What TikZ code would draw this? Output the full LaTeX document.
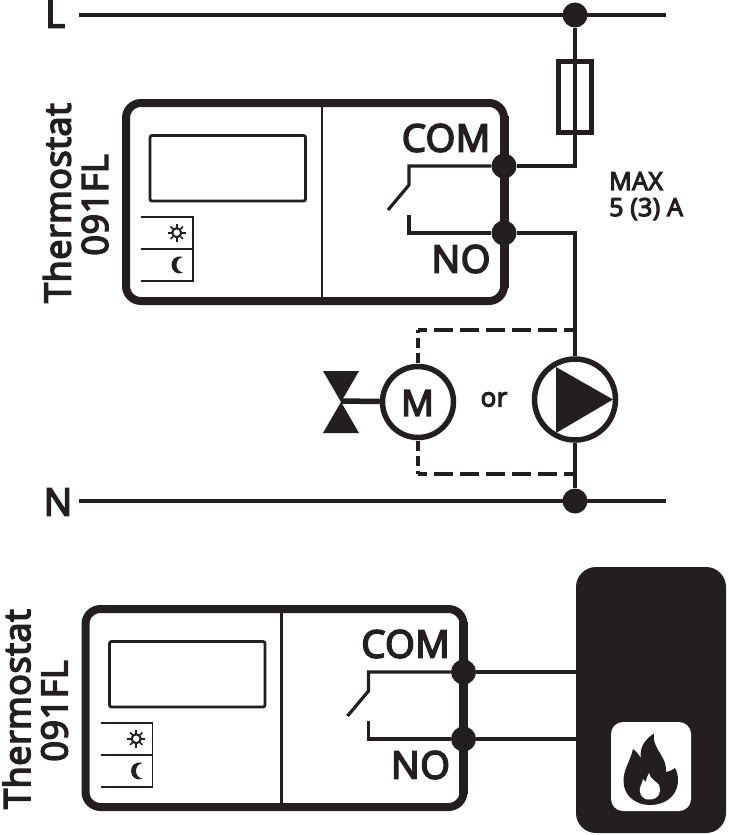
\documentclass[tikz,border=0pt]{standalone}
\usepackage{fontspec}
\setmainfont{Open Sans}[FakeBold=4.5,LetterSpace=1.5]
\definecolor{ink}{HTML}{231F20}
\tikzset{
  wire/.style={draw=ink,line width=3.2pt},
  dot/.style={circle,fill=ink,minimum size=25pt,inner sep=0pt},
  lab/.style={text=ink,inner sep=0pt,font=\fontsize{#1}{#1}\selectfont},
  dashwire/.style={draw=ink,line width=4pt},
  thermostat/.pic={
    \draw[draw=ink,line width=8pt,rounded corners=15pt] (126,103) rectangle (504,301);
    \draw[draw=ink,line width=9pt] (504,116) -- (504,288);
    \draw[draw=ink,line width=2.8pt] (322,103) -- (322,301);
    \draw[draw=ink,line width=2.8pt,rounded corners=2pt] (150,135.5) rectangle (305.5,201);
    \draw[draw=ink,line width=1.8pt] (141,217) -- (193,217) -- (193,281) -- (141,281) (141,249) -- (193,249);
    \fill[ink] (176.7,232.7) circle (5.6pt);
    \fill[white] (176.7,232.7) circle (3.2pt);
    \foreach \a in {0,45,...,315}
      \draw[draw=ink,line width=1.6pt] (176.7,232.7) ++(\a:5pt) -- ++(\a:3.8pt);
    \fill[ink] (183,257) .. controls (175,255) and (171.5,260) .. (171.5,265)
      .. controls (171.5,271) and (177,275.5) .. (183,272.5)
      .. controls (179,272) and (176.5,269) .. (176.5,265)
      .. controls (176.5,260.5) and (179,258) .. (183,257) -- cycle;
    \node[lab=36,rotate=90] (t1) at (57,203) {Thermostat};
    \node[lab=36,rotate=90] (t2) at (95,205) {091FL};
    \node[lab=38] (com) at (446,138) {COM};
    \node[lab=38] (no) at (461,259) {NO};
    \coordinate (sw1) at (409,166);
    \coordinate (sw2) at (409,185);
    \coordinate (sw3) at (388,210);
    \coordinate (sw4) at (409,215);
    \coordinate (sw5) at (409,233);
    \node[dot] (dc) at (504,166) {};
    \node[dot] (dn) at (504,233) {};
    \draw[wire,line join=miter] (dc) -- (sw1) -- (sw2) -- (sw3);
    \draw[wire,line join=miter] (dn) -- (sw5) -- (sw4);
  }
}
\begin{document}
\begin{tikzpicture}[x=1pt,y=-1pt]
\useasboundingbox (0,0) rectangle (728,835);
% rails
\coordinate (l0) at (79,15);
\coordinate (l1) at (666,15);
\coordinate (n0) at (79,501);
\coordinate (n1) at (666,501);
\draw[wire] (l0) -- (l1);
\draw[wire] (n0) -- (n1);
\node[dot] (ld) at (575,15) {};
\node[dot] (nd) at (575,501) {};
\node[lab=38] (L) at (55,14) {L};
\node[lab=38] (N) at (58,502) {N};
% unit 1
\pic (a) at (0,0) {thermostat};
% fuse
\node[draw=ink,line width=5pt,minimum width=33pt,minimum height=71pt,inner sep=0pt] (fuse) at (575,97) {};
\coordinate (c1) at (575,166);
\coordinate (c2) at (575,233);
% pump
\node[circle,draw=ink,line width=5.5pt,fill=white,minimum size=81pt,inner sep=0pt] (pump) at (575,399.5) {};
\draw[wire] (ld) -- (c1) -- (adc);
\draw[wire] (adn) -- (c2) -- (pump);
\fill[ink] (556,367) -- (613,399.5) -- (556,433) -- cycle;
\draw[wire] (pump) -- (nd);
% motor
\node[circle,draw=ink,line width=5.5pt,minimum size=71pt,inner sep=0pt] (motor) at (418,402) {};
\node[lab=36] (m) at (417.5,403) {M};
\node[lab=26] (or) at (494,399.5) {or};
\fill[ink] (323,371) -- (359,371) -- (341,402) -- (359,433) -- (323,433) -- (341,402) -- cycle;
\coordinate (vs) at (341,401);
\draw[draw=ink,line width=5.5pt] (vs) -- (motor);
% dashed links
\coordinate (d1) at (418,330);
\coordinate (d2) at (418,474);
\coordinate (d3) at (575,330);
\coordinate (d4) at (575,474);
\draw[dashwire,dash pattern=on 10pt off 5pt] (motor) ++(0,-39) -- (d1);
\draw[dashwire,dash pattern=on 10pt off 5pt] (motor) ++(0,39) -- (d2);
\draw[dashwire,dash pattern=on 18.5pt off 7.5pt,dash phase=10pt] (d1) -- (d3);
\draw[dashwire,dash pattern=on 18.5pt off 7.5pt,dash phase=10pt] (d2) -- (d4);
\node[lab=25,anchor=west] (max) at (609,181) {MAX};
\node[lab=25,anchor=west] (amp) at (609,209) {5 (3) A};
% unit 2
\pic (b) at (-40.5,506) {thermostat};
% boiler
\fill[ink,rounded corners=20pt] (576,567) rectangle (726,833);
\fill[white,rounded corners=12pt] (611,722) rectangle (691,811);
\coordinate (bc) at (577,672);
\coordinate (bn) at (577,739);
\draw[wire] (bdc) -- (bc);
\draw[wire] (bdn) -- (bn);
% flame
\fill[ink] (654,733.5) .. controls (652,745) and (661,752) .. (665,763)
  .. controls (666,767) and (666,770) .. (666,772)
  .. controls (670,771) and (673,770) .. (675,768)
  .. controls (679,775) and (679,785) .. (675,792)
  .. controls (670,801) and (660,805) .. (650,805)
  .. controls (636,805) and (623.5,796) .. (623.5,781)
  .. controls (623.5,769) and (630,762) .. (633,749)
  .. controls (636,751) and (638,754) .. (641,758)
  .. controls (639,748) and (645,739) .. (654,733.5) -- cycle;
\fill[white] (649,773) .. controls (650,779) and (656,781) .. (659,785)
  .. controls (662,791) and (659,799.5) .. (649.5,799.5)
  .. controls (641,800) and (639,792) .. (640,788)
  .. controls (641,784) and (643,782) .. (643,779)
  .. controls (645,780) and (645,781) .. (646,782)
  .. controls (646,778) and (648,776) .. (649,773) -- cycle;
\end{tikzpicture}
\end{document}
